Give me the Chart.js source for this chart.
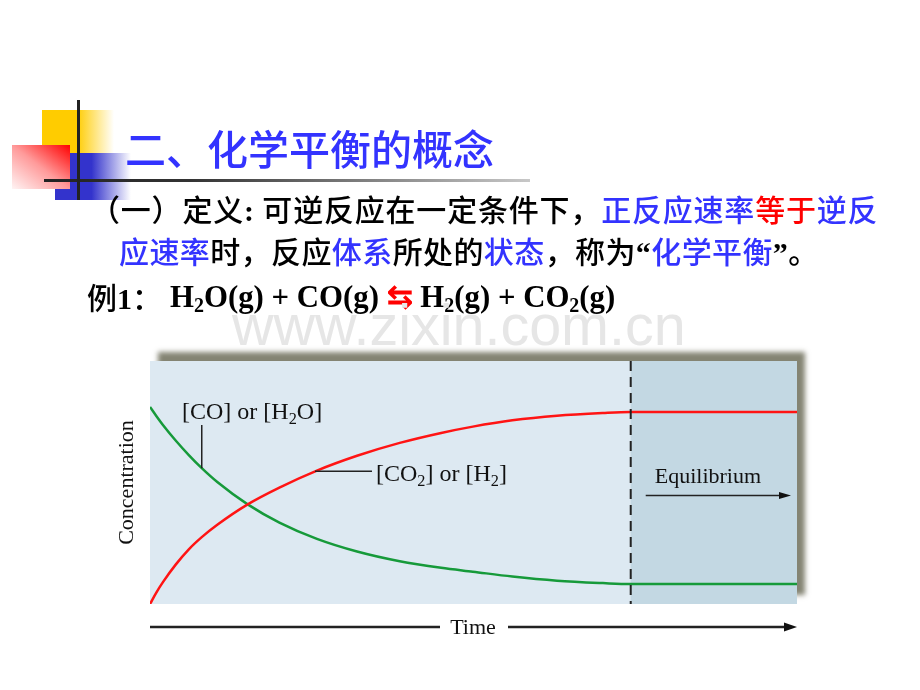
<!DOCTYPE html>
<html>
<head>
<meta charset="utf-8">
<script src="https://cdn.jsdelivr.net/npm/chart.js"></script>
<style>
body { margin: 0; background: #fff; width: 920px; height: 690px; overflow: hidden; position: relative; }
#c { position: absolute; left: 0; top: 0; }
.d { position: absolute; }
.t { position: absolute; white-space: nowrap; line-height: 1; font-family: "Noto Sans CJK SC"; font-weight: 500; }
.b { color: #3333ff; }
.r { color: #ff0000; }
.q { font-family: "Liberation Serif"; font-weight: bold; }
.eq { font-family: "Liberation Serif"; font-weight: bold; }
.eq span.s { font-size: 0.65em; vertical-align: -0.25em; }
</style>
</head>
<body>
<canvas id="c" width="920" height="690"></canvas>

<!-- slide decoration -->
<div class="d" style="left:42px;top:110px;width:72px;height:43px;background:linear-gradient(to right,#ffcc00 0%,#ffcc00 48%,#ffffff 100%)"></div>
<div class="d" style="left:55px;top:153px;width:76px;height:47px;background:linear-gradient(to right,#3333cc 0%,#3333cc 48%,#ffffff 100%)"></div>
<div class="d" style="left:12px;top:145px;width:58px;height:44px;background:linear-gradient(to bottom left,#ff0000 0%,#ff9a9a 50%,#fff4f4 100%)"></div>
<div class="d" style="left:44px;top:179px;width:486px;height:3px;background:linear-gradient(to right,#222 0%,#333 30%,#c8c8c8 100%)"></div>
<div class="d" style="left:77px;top:100px;width:3px;height:100px;background:#222"></div>

<div class="t" style="left:125px;top:127px;font-size:41px;color:#3333ff">二、化学平衡的概念</div>
<div class="t" style="left:90px;top:193px;font-size:30px;color:#000;letter-spacing:0.8px">（一）定义<span class="q">:</span> 可逆反应在一定条件下，<span class="b">正反应速率</span><span class="r">等于</span><span class="b">逆反</span></div>
<div class="t" style="left:119px;top:235px;font-size:30px;color:#000;letter-spacing:0.4px"><span class="b">应速率</span>时，反应<span class="b">体系</span>所处的<span class="b">状态</span>，称为<span class="q">“</span><span class="b">化学平衡</span><span class="q">”</span>。</div>
<div class="t" style="left:87px;top:281px;font-size:30px;color:#000">例<span class="q">1</span>：</div>
<div class="t eq" style="left:170px;top:282px;font-size:30.8px;color:#000">H<span class="s">2</span>O(g) + CO(g) <span class="r">⇆</span> H<span class="s">2</span>(g) + CO<span class="s">2</span>(g)</div>
<div class="t" style="left:232px;top:297px;font-size:57.5px;color:#e6e6e6;font-family:'Liberation Sans';font-weight:normal">www.zixin.com.cn</div>

<script>
// time axis runs 0..10, concentration 0..1
const timePts = [0, 0.1, 0.2, 0.4, 0.6, 0.8, 1.04, 1.51, 2.0, 2.58, 3.2, 3.86, 4.5, 4.99, 5.6, 6.29, 7.0, 7.42, 10];
const productVals = [0, 0.048, 0.09, 0.163, 0.225, 0.275, 0.326, 0.41, 0.479, 0.549, 0.61, 0.663, 0.704, 0.73, 0.756, 0.775, 0.786, 0.79, 0.79];
const reactantVals = [0.811, 0.773, 0.737, 0.672, 0.613, 0.559, 0.502, 0.41, 0.335, 0.268, 0.216, 0.176, 0.149, 0.133, 0.113, 0.096, 0.086, 0.082, 0.082];
const eqTime = 7.43;
const productLabel = [['[CO', 0], ['2', 1], ['] or [H', 0], ['2', 1], [']', 0]];
const reactantLabel = [['[CO] or [H', 0], ['2', 1], ['O]', 0]];

function richText(ctx, x, y, parts, size) {
    for (const [txt, sub] of parts) {
        const s = sub ? size * 0.68 : size;
        ctx.font = s + 'px "Liberation Serif"';
        ctx.fillText(txt, x, sub ? y + size * 0.2 : y);
        x += ctx.measureText(txt).width;
    }
}

function arrow(ctx, x1, y, x2, lw, head, half) {
    ctx.lineWidth = lw;
    ctx.beginPath();
    ctx.moveTo(x1, y);
    ctx.lineTo(x2 - head + 1, y);
    ctx.stroke();
    if (!head) return;
    ctx.beginPath();
    ctx.moveTo(x2, y);
    ctx.lineTo(x2 - head, y - half);
    ctx.lineTo(x2 - head, y + half);
    ctx.closePath();
    ctx.fill();
}

const slidePlot = {
    id: 'slidePlot',
    beforeDatasetsDraw(chart) {
        const { ctx, chartArea: a, scales: { x } } = chart;
        const ex = x.getPixelForValue(eqTime);
        ctx.save();
        ctx.shadowColor = 'rgba(125,125,108,0.95)';
        ctx.shadowBlur = 5;
        ctx.shadowOffsetX = 8;
        ctx.shadowOffsetY = -9;
        ctx.fillStyle = '#dde9f2';
        ctx.fillRect(a.left, a.top, a.width, a.height);
        ctx.restore();
        ctx.fillStyle = '#c3d8e3';
        ctx.fillRect(ex, a.top, a.right - ex, a.height);
    },
    afterDatasetsDraw(chart) {
        const { ctx, chartArea: a, scales: { x, y } } = chart;
        const ex = x.getPixelForValue(eqTime);
        ctx.save();
        ctx.strokeStyle = '#222';
        ctx.fillStyle = '#111';

        // equilibrium boundary
        ctx.lineWidth = 2;
        ctx.setLineDash([10, 6]);
        ctx.beginPath();
        ctx.moveTo(ex, a.top);
        ctx.lineTo(ex, a.bottom);
        ctx.stroke();
        ctx.setLineDash([]);

        // leader lines
        ctx.lineWidth = 1.5;
        const gx = x.getPixelForValue(timePts[5]), gy = y.getPixelForValue(reactantVals[5]);
        ctx.beginPath();
        ctx.moveTo(gx, a.top + 64);
        ctx.lineTo(gx, gy);
        ctx.stroke();
        const rx = x.getPixelForValue(2.55), ry = y.getPixelForValue(0.546);
        ctx.beginPath();
        ctx.moveTo(rx, ry);
        ctx.lineTo(rx + 57, ry);
        ctx.stroke();

        ctx.textBaseline = 'alphabetic';
        richText(ctx, a.left + 32, a.top + 58, reactantLabel, 24);
        richText(ctx, a.left + 226, a.top + 120, productLabel, 24);

        ctx.font = '22px "Liberation Serif"';
        ctx.fillText('Equilibrium', ex + 24, a.top + 122);
        arrow(ctx, ex + 15, a.top + 134.5, a.right - 6, 1.5, 12, 3.5);

        // time axis arrow
        ctx.textAlign = 'center';
        ctx.fillText('Time', 473, 634);
        arrow(ctx, a.left, 627, 439, 2.5, 0, 0);
        arrow(ctx, 508, 627, a.right, 2.5, 13, 4.5);

        // concentration label
        ctx.translate(125, (a.top + a.bottom) / 2);
        ctx.rotate(-Math.PI / 2);
        ctx.fillText('Concentration', 0, 8);
        ctx.restore();
    }
};

new Chart(document.getElementById('c'), {
    type: 'line',
    data: {
        labels: timePts,
        datasets: [{
            label: 'products',
            data: timePts.map((t, i) => ({ x: t, y: productVals[i] })),
            borderColor: '#ff1414',
            borderWidth: 2.5,
            pointRadius: 0,
            cubicInterpolationMode: 'monotone'
        }, {
            label: 'reactants',
            data: timePts.map((t, i) => ({ x: t, y: reactantVals[i] })),
            borderColor: '#169a3a',
            borderWidth: 2.5,
            pointRadius: 0,
            cubicInterpolationMode: 'monotone'
        }]
    },
    options: {
        responsive: false,
        animation: false,
        layout: { padding: { left: 150, top: 361, right: 123, bottom: 86 } },
        plugins: { legend: { display: false }, tooltip: { enabled: false } },
        scales: {
            x: { type: 'linear', min: 0, max: 10, display: false },
            y: { min: 0, max: 1, display: false }
        }
    },
    plugins: [slidePlot]
});
</script>
</body>
</html>
